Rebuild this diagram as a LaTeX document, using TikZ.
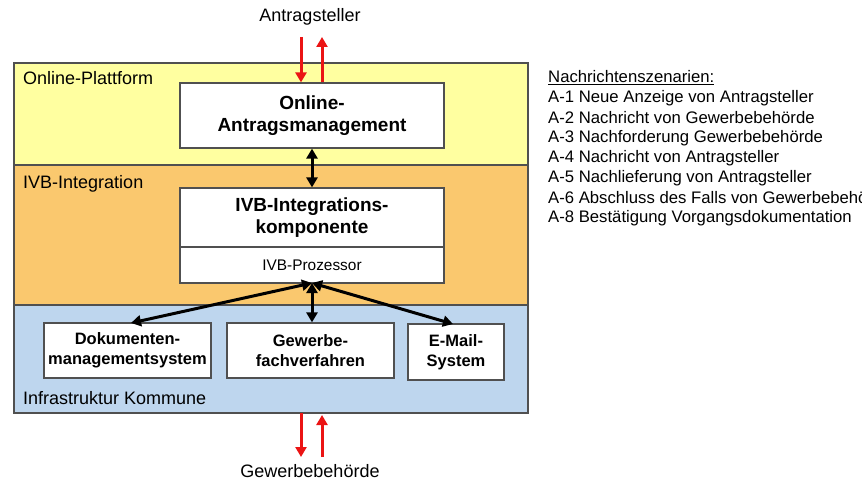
\documentclass[tikz,border=0pt]{standalone}
\usepackage{fontspec}
\setmainfont{Liberation Sans}
\usetikzlibrary{arrows.meta}
\definecolor{bandyellow}{RGB}{255,255,160}
\definecolor{bandorange}{RGB}{250,200,110}
\definecolor{bandblue}{RGB}{190,214,238}
\definecolor{edgegray}{RGB}{80,80,80}
\definecolor{flowred}{RGB}{235,20,20}
\begin{document}
\begin{tikzpicture}[x=1pt,y=-1pt,
  band/.style={draw=edgegray,line width=1.2pt},
  bandlabel/.style={anchor=west,inner sep=0pt,font=\fontsize{18}{20}\selectfont},
  compbox/.style={draw=edgegray,fill=white,line width=1.2pt,align=center,inner sep=0pt,
    font=\fontsize{19}{21.5}\selectfont\bfseries},
  smallbox/.style={compbox,font=\fontsize{16.5}{20}\selectfont\bfseries},
  bilink/.style={line width=3pt,{Triangle[length=10pt,width=11pt]}-{Triangle[length=10pt,width=11pt]}},
  inflow/.style={draw=flowred,line width=3pt,-{Triangle[length=10pt,width=11pt]}},
  ext/.style={inner sep=0pt,font=\fontsize{18}{20}\selectfont},
  listline/.style={anchor=west,inner sep=0pt,font=\fontsize{16.7}{19}\selectfont}]
\useasboundingbox (0,0) rectangle (862,481);
\begin{scope}
\clip (0,0) rectangle (862,481);

% three layers
\fill[bandyellow] (14,63) rectangle (528,165);
\fill[bandorange] (14,165) rectangle (528,305);
\fill[bandblue] (14,305) rectangle (528,413);
\draw[band] (14,63) rectangle (528,413);
\draw[band] (14,165) -- (528,165);
\draw[band] (14,305) -- (528,305);

\node[bandlabel] (lplat) at (23,78) {Online-Plattform};
\node[bandlabel] (lint) at (23,184) {IVB-Integration};
\node[bandlabel] (linfra) at (23,398) {Infrastruktur Kommune};

% components
\node[compbox,minimum width=264pt,minimum height=65pt] (oam) at (312,115.5)
  {Online-\\Antragsmanagement};
\node[compbox,minimum width=264pt,minimum height=59pt] (ivb) at (312,217.5)
  {IVB-Integrations-\\komponente};
\node[draw=edgegray,fill=white,line width=1.2pt,inner sep=0pt,minimum width=264pt,
  minimum height=36pt,font=\fontsize{15.4}{17}\selectfont] (proc) at (312,265) {IVB-Prozessor};
\node[smallbox,minimum width=167pt,minimum height=55pt] (dms) at (127.5,350.5)
  {Dokumenten-\\managementsystem};
\node[smallbox,minimum width=167pt,minimum height=55pt] (gfv) at (310.5,350.5)
  {Gewerbe-\\fachverfahren};
\node[smallbox,minimum width=96pt,minimum height=56pt] (mail) at (456,352)
  {E-Mail-\\System};

% internal links
\draw[bilink] (oam.south) -- (ivb.north);
\coordinate (hub) at (312,283);
\draw[bilink] (hub) -- (131,323);
\draw[bilink] (hub) -- (gfv.north -| hub);
\draw[bilink] (hub) -- (453,324);

% external parties
\node[ext] (appl) at (310,17) {Antragsteller};
\node[ext] (auth) at (310,471) {Gewerbebehörde};
\coordinate (tdn) at (301,37);
\coordinate (tup) at (322,37);
\draw[inflow] (tdn) -- (tdn |- oam.north);
\draw[inflow] (tup |- oam.north) -- (tup);
\coordinate (bdn) at (301,457);
\coordinate (bup) at (322,457);
\draw[inflow] (bdn |- 0,413) -- (bdn);
\draw[inflow] (bup) -- (bup |- 0,415);

% message scenarios
\node[listline] (hdr) at (548,78) {\underline{Nachrichtenszenarien:}};
\node[listline] (a1) at (548,98) {A-1 Neue Anzeige von Antragsteller};
\node[listline] (a2) at (548,118) {A-2 Nachricht von Gewerbebehörde};
\node[listline] (a3) at (548,138) {A-3 Nachforderung Gewerbebehörde};
\node[listline] (a4) at (548,158) {A-4 Nachricht von Antragsteller};
\node[listline] (a5) at (548,178) {A-5 Nachlieferung von Antragsteller};
\node[listline] (a6) at (548,198) {A-6 Abschluss des Falls von Gewerbebehörde};
\node[listline] (a8) at (548,218) {A-8 Bestätigung Vorgangsdokumentation};
\end{scope}
\end{tikzpicture}
\end{document}
